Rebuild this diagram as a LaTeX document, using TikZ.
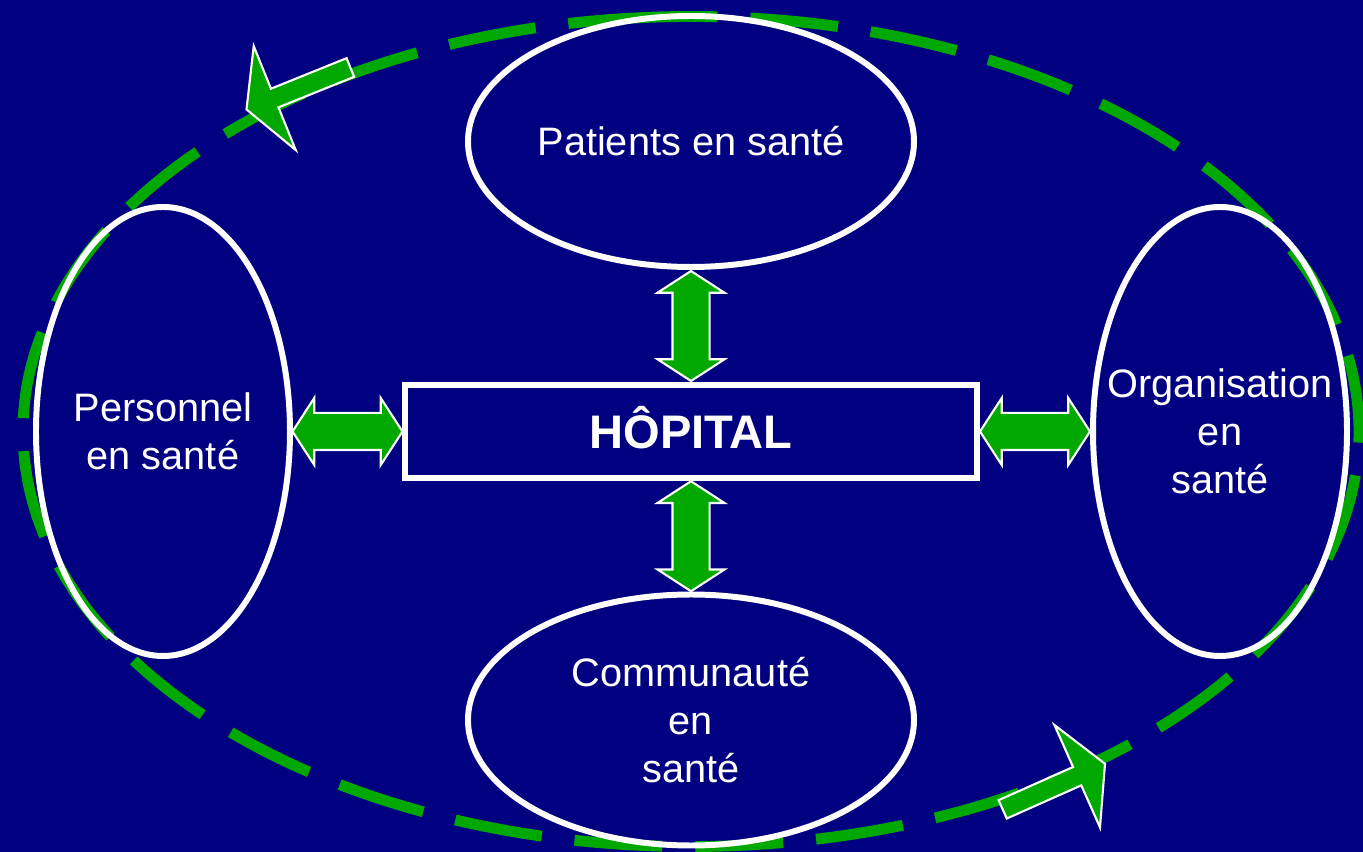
\documentclass[tikz,border=0pt]{standalone}
\usepackage{fontspec}
\setmainfont{Liberation Sans}
\usetikzlibrary{positioning,shapes.geometric,shapes.arrows,calc}

\definecolor{navy}{RGB}{0,0,128}
\definecolor{leaf}{RGB}{0,168,0}

\tikzset{
    pole/.style={ellipse, draw=white, line width=1.7pt, inner ysep=0pt,
        inner xsep=-0.3cm, text=white, align=center,
        font=\fontsize{11.3}{13.7}\selectfont},
    wide/.style={pole, minimum width=4.46cm, minimum height=2.51cm},
    tall/.style={pole, minimum width=2.54cm, minimum height=4.49cm},
    link/.style={double arrow, fill=leaf, draw=white, line width=0.6pt,
        inner xsep=0pt, inner ysep=0.175cm, minimum height=1.1cm,
        double arrow head extend=0.15cm, double arrow tip angle=114},
    turn/.style={single arrow, fill=leaf, draw=white, line width=0.6pt,
        inner xsep=0pt, inner ysep=0.09cm, minimum height=1.12cm,
        single arrow head extend=0.46cm, single arrow tip angle=123}
}

\begin{document}
\begin{tikzpicture}[node distance=2.9cm,on grid]
    \fill[navy] (-6.91,-4.205) rectangle (6.72,4.315);
    \useasboundingbox (-6.91,-4.205) rectangle (6.72,4.315);

    % the cycle round the hospital
    \draw[leaf, line width=3.1pt, dash pattern=on 0.88cm off 0.33cm]
        (93:6.68cm and 4.15cm) arc[start angle=93, end angle=453,
        x radius=6.68cm, y radius=4.15cm];
    \node[turn, rotate=202] (ccw_1) at (125:6.8cm and 4.2cm) {};
    \node[turn, rotate=24]  (ccw_2) at (-58:6.8cm and 4.2cm) {};

    \node[draw=white, line width=1.7pt, minimum width=5.72cm,
        minimum height=0.93cm, inner sep=0pt, text=white,
        text height=9.6pt, text depth=0pt,
        font=\fontsize{13.4}{16}\selectfont\bfseries] (hop) {HÔPITAL};
    \node[wide] (pat)  [above=of hop]        {Patients en santé};
    \node[wide] (com)  [below=2.885cm of hop] {Communauté\\en\\santé};
    \node[tall] (pers) [left=5.28cm of hop]   {Personnel\\en santé};
    \node[tall] (org)  [right=5.29cm of hop]  {Organisation\\en\\santé};

    \node[link, rotate=90] (l_pat)  at ($(hop.north)!.5!(pat.south)$) {};
    \node[link, rotate=90] (l_com)  at ($(hop.south)!.5!(com.north)$) {};
    \node[link]            (l_pers) at ($(hop.west)!.5!(pers.east)$)  {};
    \node[link]            (l_org)  at ($(hop.east)!.5!(org.west)$)   {};
\end{tikzpicture}
\end{document}
